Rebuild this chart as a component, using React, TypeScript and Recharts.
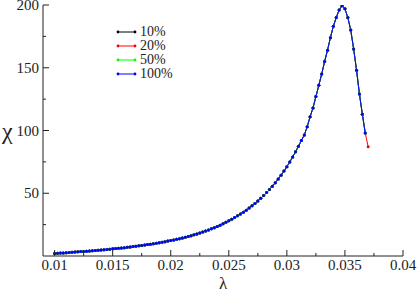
import { LineChart, Line, XAxis, YAxis, Legend } from "recharts";

// lambda grid of the scan (step 0.00025)
const lambdas = [
  0.01, 0.01025, 0.0105, 0.01075, 0.011, 0.01125, 0.0115, 0.01175, 0.012, 0.01225,
  0.0125, 0.01275, 0.013, 0.01325, 0.0135, 0.01375, 0.014, 0.01425, 0.0145, 0.01475,
  0.015, 0.01525, 0.0155, 0.01575, 0.016, 0.01625, 0.0165, 0.01675, 0.017, 0.01725,
  0.0175, 0.01775, 0.018, 0.01825, 0.0185, 0.01875, 0.019, 0.01925, 0.0195, 0.01975,
  0.02, 0.02025, 0.0205, 0.02075, 0.021, 0.02125, 0.0215, 0.02175, 0.022, 0.02225,
  0.0225, 0.02275, 0.023, 0.02325, 0.0235, 0.02375, 0.024, 0.02425, 0.0245, 0.02475,
  0.025, 0.02525, 0.0255, 0.02575, 0.026, 0.02625, 0.0265, 0.02675, 0.027, 0.02725,
  0.0275, 0.02775, 0.028, 0.02825, 0.0285, 0.02875, 0.029, 0.02925, 0.0295, 0.02975,
  0.03, 0.03025, 0.0305, 0.03075, 0.031, 0.03125, 0.0315, 0.03175, 0.032, 0.03225,
  0.0325, 0.03275, 0.033, 0.03325, 0.0335, 0.03375, 0.034, 0.03425, 0.0345, 0.03475,
  0.035, 0.03525, 0.0355, 0.03575, 0.036, 0.03625, 0.0365, 0.03675,
];

// chi (all system sizes sit on top of each other)
const chiCurve = [
  2.0, 2.1, 2.3, 2.4, 2.6, 2.8, 2.9, 3.1, 3.3, 3.5,
  3.6, 3.8, 4.0, 4.2, 4.4, 4.6, 4.8, 5.0, 5.2, 5.4,
  5.7, 5.9, 6.1, 6.4, 6.6, 6.9, 7.2, 7.5, 7.8, 8.1,
  8.4, 8.7, 9.1, 9.4, 9.8, 10.2, 10.6, 11.0, 11.4, 11.9,
  12.3, 12.8, 13.3, 13.8, 14.4, 15.0, 15.6, 16.2, 16.9, 17.6,
  18.3, 19.1, 19.9, 20.8, 21.7, 22.6, 23.6, 24.6, 25.7, 26.8,
  28.0, 29.3, 30.6, 32.0, 33.4, 34.9, 36.5, 38.2, 40.0, 41.9,
  43.9, 46.0, 48.2, 50.5, 53.0, 55.6, 58.4, 61.3, 64.4, 67.7,
  71.2, 74.9, 78.9, 83.1, 87.5, 92.0, 96.5, 103, 111, 118,
  127, 136, 145, 155, 164, 174, 183, 190, 196, 199.5,
  197, 190, 180, 165, 148, 129, 113, 98,
];

// the 20% run has one more point past the others
const extraLambda20 = [0.037];
const extraChi20 = [87];

const seriesNames = ["10%", "20%", "50%", "100%"];
const seriesColors = ["#000000", "#ff0000", "#00ff00", "#0000ff"];

const xTicks = [
  0.01, 0.0125, 0.015, 0.0175, 0.02, 0.0225, 0.025, 0.0275, 0.03, 0.0325, 0.035,
  0.0375, 0.04,
];
const yTicks = [25, 50, 75, 100, 125, 150, 175, 200];

const SERIF = "'Liberation Serif', 'DejaVu Serif', 'Times New Roman', serif";
const AXIS = "#222";

const makeRows = (xs: number[], ys: number[]) =>
  xs.map((lam, i) => ({ lam, chi: ys[i] }));

const seriesData = [
  makeRows(lambdas, chiCurve),
  makeRows([...lambdas, ...extraLambda20], [...chiCurve, ...extraChi20]),
  makeRows(lambdas, chiCurve),
  makeRows(lambdas, chiCurve),
];

const BottomTick = (props: any) => {
  const { x, y, index, payload } = props;
  const major = index % 2 === 0;
  return (
    <g>
      <line x1={x} x2={x} y1={y} y2={y - (major ? 6 : 3)} stroke={AXIS} />
      {major && (
        <text x={x} y={y + 14} textAnchor="middle" style={{ fontFamily: SERIF, fontSize: 15 }} fill="#222">
          {payload.value}
        </text>
      )}
    </g>
  );
};

const TopTick = (props: any) => {
  const { x, y, index } = props;
  const major = index % 2 === 0;
  return <line x1={x} x2={x} y1={y} y2={y + (major ? 6 : 3)} stroke={AXIS} />;
};

const LeftTick = (props: any) => {
  const { x, y, payload } = props;
  const major = payload.value % 50 === 0;
  return (
    <g>
      <line x1={x} x2={x + (major ? 6 : 3)} y1={y} y2={y} stroke={AXIS} />
      {major && (
        <text x={x - 4} y={y + 5} textAnchor="end" style={{ fontFamily: SERIF, fontSize: 15 }} fill="#222">
          {payload.value}
        </text>
      )}
    </g>
  );
};

const RightTick = (props: any) => {
  const { x, y, payload } = props;
  const major = payload.value % 50 === 0;
  return <line x1={x} x2={x - (major ? 6 : 3)} y1={y} y2={y} stroke={AXIS} />;
};

const LegendBox = () => (
  <div style={{ fontFamily: SERIF, fontSize: 14, lineHeight: "14px", color: "#222" }}>
    {seriesNames.map((name, i) => (
      <div key={name} style={{ display: "flex", alignItems: "center", height: 14 }}>
        <svg width={22} height={14}>
          <line x1={2} x2={19} y1={7} y2={7} stroke={seriesColors[i]} />
          <circle cx={2} cy={7} r={1.4} fill={seriesColors[i]} />
          <circle cx={19} cy={7} r={1.4} fill={seriesColors[i]} />
        </svg>
        <span style={{ marginLeft: 2 }}>{name}</span>
      </div>
    ))}
  </div>
);

export default function App() {
  return (
    <div style={{ position: "absolute", left: 0, top: 0, width: 417, height: 291, background: "#fff" }}>
      <LineChart width={417} height={291} margin={{ top: 5, right: 14, bottom: 0, left: 0 }}>
        <XAxis
          xAxisId="bottom"
          type="number"
          dataKey="lam"
          domain={[0.009, 0.04]}
          allowDataOverflow
          ticks={xTicks}
          interval={0}
          height={35}
          tickSize={0}
          tickMargin={0}
          tickLine={false}
          tick={<BottomTick />}
          axisLine={{ stroke: AXIS }}
          label={{ value: "λ", position: "insideBottom", offset: 2, style: { fontFamily: SERIF, fontSize: 17 }, fill: "#222" }}
        />
        <XAxis
          xAxisId="top"
          orientation="top"
          type="number"
          dataKey="lam"
          domain={[0.009, 0.04]}
          allowDataOverflow
          ticks={xTicks}
          interval={0}
          height={0}
          tickSize={0}
          tickMargin={0}
          tickLine={false}
          tick={<TopTick />}
          axisLine={{ stroke: AXIS }}
        />
        <YAxis
          yAxisId="left"
          type="number"
          dataKey="chi"
          domain={[0, 200]}
          allowDataOverflow
          ticks={yTicks}
          interval={0}
          width={43}
          tickSize={0}
          tickMargin={0}
          tickLine={false}
          tick={<LeftTick />}
          axisLine={{ stroke: AXIS }}
          label={{ value: "χ", position: "insideLeft", offset: 2, style: { fontFamily: SERIF, fontSize: 24 }, fill: "#222" }}
        />
        <YAxis
          yAxisId="right"
          orientation="right"
          type="number"
          dataKey="chi"
          domain={[0, 200]}
          allowDataOverflow
          ticks={yTicks}
          interval={0}
          width={0}
          tickSize={0}
          tickMargin={0}
          tickLine={false}
          tick={<RightTick />}
          axisLine={{ stroke: AXIS }}
        />
        <Legend
          layout="vertical"
          align="center"
          verticalAlign="middle"
          wrapperStyle={{ left: 116, top: 25, width: "auto" }}
          content={<LegendBox />}
        />
        {seriesNames.map((name, i) => (
          <Line
            key={name}
            name={name}
            data={seriesData[i]}
            xAxisId="bottom"
            yAxisId="left"
            dataKey="chi"
            type="linear"
            stroke={seriesColors[i]}
            strokeWidth={1}
            dot={{ r: 1.5, fill: seriesColors[i], stroke: "none" }}
            isAnimationActive={false}
          />
        ))}
      </LineChart>
    </div>
  );
}
